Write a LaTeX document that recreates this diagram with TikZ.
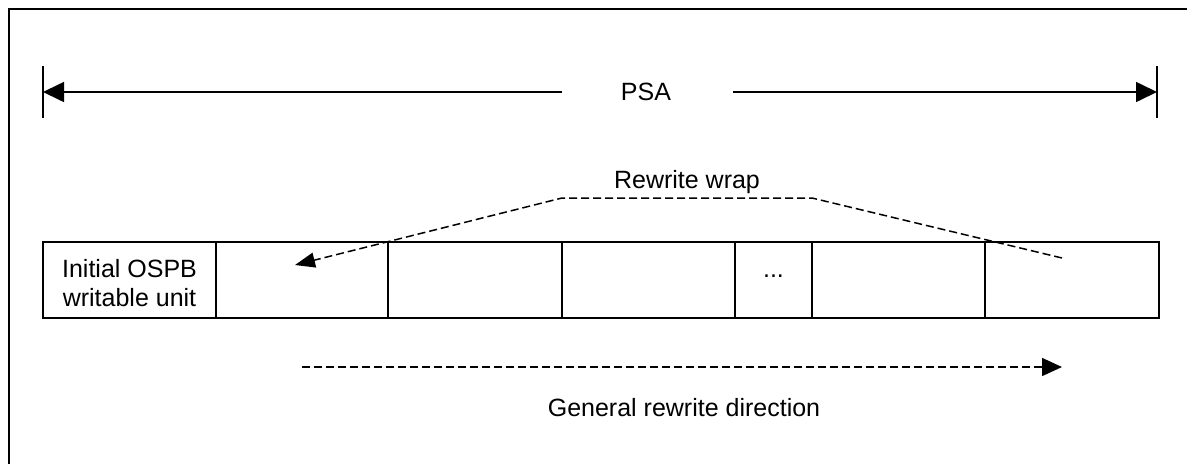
\documentclass[tikz,border=0pt]{standalone}
\usepackage{fontspec}
\setmainfont{Liberation Sans}
\usetikzlibrary{arrows.meta}
\begin{document}
\begin{tikzpicture}[x=1pt,y=-1pt,
  lbl/.style={font=\fontsize{25}{29}\selectfont, inner sep=0pt, align=center},
  unitbox/.style={draw, line width=2pt, minimum height=76pt, inner sep=0pt, outer sep=0pt, anchor=north west},
  dim/.style={line width=1.6pt, -{Triangle[length=21pt,width=20pt]}},
  dsh/.style={line width=1.5pt, dash pattern=on 8pt off 4pt, -{Triangle[length=20pt,width=15pt]}},
  tick/.style={line width=2pt}]
\useasboundingbox (0,0) rectangle (1187,464);
% frame
\draw[line width=2.2pt] (9,464) -- (9,9) -- (1188,9);
% PSA dimension
\coordinate (tl1) at (43,66); \coordinate (tl2) at (43,118);
\coordinate (tr1) at (1157,66); \coordinate (tr2) at (1157,118);
\draw[tick] (tl1) -- (tl2);
\draw[tick] (tr1) -- (tr2);
\node[lbl] (psa) at (646,92) {PSA};
\coordinate (pl) at (43,92); \coordinate (pr) at (1157,92);
\coordinate (pml) at (562,92); \coordinate (pmr) at (733,92);
\draw[dim] (pml) -- (pl);
\draw[dim] (pmr) -- (pr);
% boxes
\node[unitbox, minimum width=173pt] (b0) at (43,242) {};
\node[lbl, anchor=north] at ([yshift=-17pt]b0.north) {Initial OSPB\\writable unit};
\node[unitbox, minimum width=172pt] (b1) at (b0.north east) {};
\node[unitbox, minimum width=174pt] (b2) at (b1.north east) {};
\node[unitbox, minimum width=173pt] (b3) at (b2.north east) {};
\node[unitbox, minimum width=77pt] (b4) at (b3.north east) {};
\node[lbl, anchor=base] at ([yshift=-35pt]b4.north) {...};
\node[unitbox, minimum width=173pt] (b5) at (b4.north east) {};
\node[unitbox, minimum width=174pt] (b6) at (b5.north east) {};
% rewrite wrap
\node[lbl] (rw) at (687,182) {Rewrite wrap};
\coordinate (w0) at (1062,258);
\coordinate (w1) at (812,198);
\coordinate (w2) at (562,198);
\coordinate (w3) at (295,265);
\draw[dsh] (w0) -- (w1) -- (w2) -- (w3);
% general direction
\coordinate (g0) at (302,367);
\coordinate (g1) at (1062,367);
\draw[dsh,-{Triangle[length=20pt,width=18pt]}] (g0) -- (g1);
\node[lbl] (gd) at (684,408) {General rewrite direction};
\end{tikzpicture}
\end{document}
